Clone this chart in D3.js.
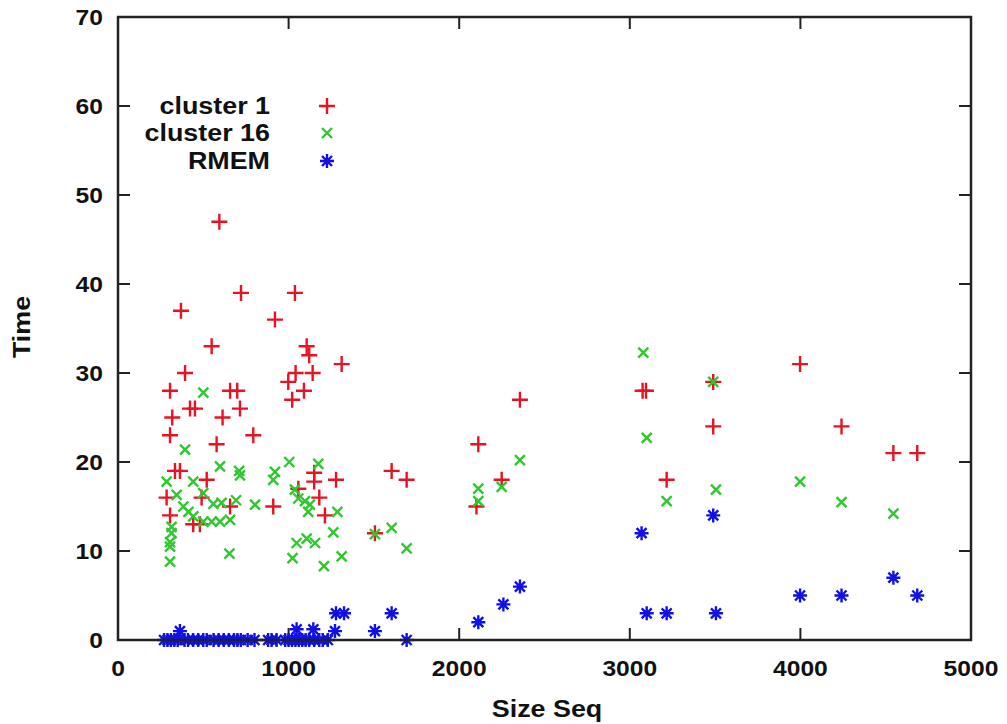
<!DOCTYPE html>
<html>
<head>
<meta charset="utf-8">
<script src="https://cdn.jsdelivr.net/npm/d3@7"></script>
<style>
  body { margin: 0; background: #fff; }
  text { font-family: "Liberation Sans", Arial, sans-serif; font-weight: bold; }
</style>
</head>
<body>
<div id="chart"></div>
<script>
// series names in the key
var seriesNames = ["cluster 1", "cluster 16", "RMEM"];

// cluster 1 points: [size seq, time]
var cluster1 = [
  [594, 47], [721, 39], [369, 37], [549, 33], [393, 30], [305, 28], [657, 28], [699, 28],
  [422, 26], [451, 26], [715, 26], [318, 25], [613, 25], [305, 23], [793, 23], [578, 22],
  [334, 19], [363, 19], [520, 18], [285, 16], [490, 16], [657, 15], [305, 14], [441, 13],
  [480, 13], [1037, 39], [920, 36], [1106, 33], [1121, 32], [1311, 31], [1041, 30], [1141, 30],
  [998, 29], [1090, 28], [1021, 27], [1150, 18.8], [1150, 17.8], [1278, 18], [1604, 19],
  [1692, 18], [910, 15], [1057, 17], [1180, 16], [1213, 14], [1506, 12],
  [2101, 15], [2112, 22], [2249, 18], [2356, 27], [3075, 28], [3095, 28], [3216, 18],
  [3489, 29], [3489, 24], [3998, 31], [4241, 24], [4545, 21], [4685, 21]
];

// cluster 16 points
var cluster16 = [
  [393, 21.4], [598, 19.5], [710, 19], [715, 18.5], [285, 17.8], [441, 17.8], [344, 16.3],
  [500, 16.5], [383, 15], [559, 15.3], [607, 15.4], [692, 15.7], [803, 15.2], [413, 14.4],
  [441, 13.9], [500, 13.3], [549, 13.3], [598, 13.3], [657, 13.5], [314, 12.7], [314, 12],
  [305, 11], [305, 10.5], [653, 9.7], [305, 8.8], [500, 27.8],
  [1004, 20], [1174, 19.8], [920, 18.9], [910, 18], [1037, 16.9], [1057, 15.9], [1096, 15.6],
  [1125, 15.2], [1115, 14.4], [1286, 14.4], [1262, 12.1], [1047, 10.9], [1106, 11.4],
  [1155, 10.9], [1023, 9.2], [1207, 8.3], [1311, 9.4],
  [1506, 11.9], [1604, 12.6], [1692, 10.3],
  [2112, 17], [2249, 17.2], [2112, 15.6], [2356, 20.2], [3079, 32.3], [3099, 22.7],
  [3216, 15.6], [3489, 29], [3505, 16.9], [3998, 17.8], [4241, 15.5], [4545, 14.2]
];

// RMEM points
var rmem = [
  [270, 0], [290, 0], [310, 0], [330, 0], [350, 0], [390, 0], [410, 0], [440, 0], [470, 0],
  [500, 0], [520, 0], [560, 0], [590, 0], [620, 0], [650, 0], [680, 0], [700, 0], [720, 0],
  [760, 0], [800, 0], [880, 0], [900, 0], [930, 0], [980, 0], [1000, 0], [1020, 0],
  [1040, 0], [1060, 0], [1080, 0], [1100, 0], [1120, 0], [1150, 0], [1180, 0], [1200, 0],
  [1230, 0], [363, 1], [1047, 1.2], [1145, 1.2], [1272, 1], [1278, 3], [1325, 3],
  [1506, 1], [1604, 3], [1692, 0], [2112, 2], [2259, 4], [2356, 6],
  [3069, 12], [3489, 14], [3099, 3], [3216, 3], [3505, 3],
  [3998, 5], [4241, 5], [4545, 7], [4685, 5]
];

var xTicks = [0, 1000, 2000, 3000, 4000, 5000];
var yTicks = [0, 10, 20, 30, 40, 50, 60, 70];

var colors = ["#e81222", "#2fc82f", "#1010e8"];

var width = 1007, height = 724;
// plot frame edges (named so they don't clash with window.top)
var plotLeft = 118, plotRight = 971, plotTop = 17, plotBottom = 640;

var svg = d3.select("#chart").append("svg")
    .attr("width", width)
    .attr("height", height);

var x = d3.scaleLinear().domain([0, 5000]).range([plotLeft, plotRight]);
var y = d3.scaleLinear().domain([0, 70]).range([plotBottom, plotTop]);

// marker shapes, gnuplot style
var plusPath = "M-8,0H8M0,-8V8";
var timesPath = "M-5,-5L5,5M-5,5L5,-5";
var starPath = "M-7,0H7M0,-7V7M-5,-5L5,5M-5,5L5,-5";
var shapes = [plusPath, timesPath, starPath];

// text is a bit wider than plain Arial bold in the picture
var stretch = 1.12;
function addText(px, py, str, size, anchor, rotate) {
    var g = svg.append("g")
        .attr("transform", "translate(" + px + "," + py + ")" + (rotate ? " rotate(-90)" : "") + " scale(" + stretch + ",1)");
    g.append("text")
        .attr("text-anchor", anchor)
        .attr("font-size", size)
        .attr("fill", "#111")
        .text(str);
}

// inward ticks on all four sides
var tickLen = 12;
var frameColor = "#222";

var tickG = svg.append("g").attr("stroke", frameColor).attr("stroke-width", 2);
xTicks.forEach(function(t) {
    tickG.append("line").attr("x1", x(t)).attr("x2", x(t)).attr("y1", plotBottom).attr("y2", plotBottom - tickLen);
    tickG.append("line").attr("x1", x(t)).attr("x2", x(t)).attr("y1", plotTop).attr("y2", plotTop + tickLen);
});
yTicks.forEach(function(t) {
    tickG.append("line").attr("x1", plotLeft).attr("x2", plotLeft + tickLen).attr("y1", y(t)).attr("y2", y(t));
    tickG.append("line").attr("x1", plotRight).attr("x2", plotRight - tickLen).attr("y1", y(t)).attr("y2", y(t));
});

// tick labels
xTicks.forEach(function(t) { addText(x(t), 676, t, 22, "middle"); });
yTicks.forEach(function(t) { addText(103, y(t) + 8, t, 22, "end"); });

// axis titles
addText(547, 717, "Size Seq", 24, "middle");
addText(30, 327, "Time", 24, "middle", true);

// data points
var allSeries = [cluster1, cluster16, rmem];
allSeries.forEach(function(series, i) {
    svg.append("g")
        .attr("stroke", colors[i])
        .attr("stroke-width", 2.4)
        .attr("fill", "none")
        .selectAll("path")
        .data(series)
        .enter().append("path")
        .attr("d", shapes[i])
        .attr("transform", function(d) { return "translate(" + x(d[0]) + "," + y(d[1]) + ")"; });
});

// key
var keyY = [106, 133, 161];
seriesNames.forEach(function(name, i) {
    addText(270, keyY[i] + 8, name, 24, "end");
    svg.append("path")
        .attr("d", shapes[i])
        .attr("transform", "translate(327," + keyY[i] + ")")
        .attr("stroke", colors[i])
        .attr("stroke-width", 2.4)
        .attr("fill", "none");
});

// frame
svg.append("rect")
    .attr("x", plotLeft)
    .attr("y", plotTop)
    .attr("width", plotRight - plotLeft)
    .attr("height", plotBottom - plotTop)
    .attr("fill", "none")
    .attr("stroke", frameColor)
    .attr("stroke-width", 2.5);
</script>
</body>
</html>
